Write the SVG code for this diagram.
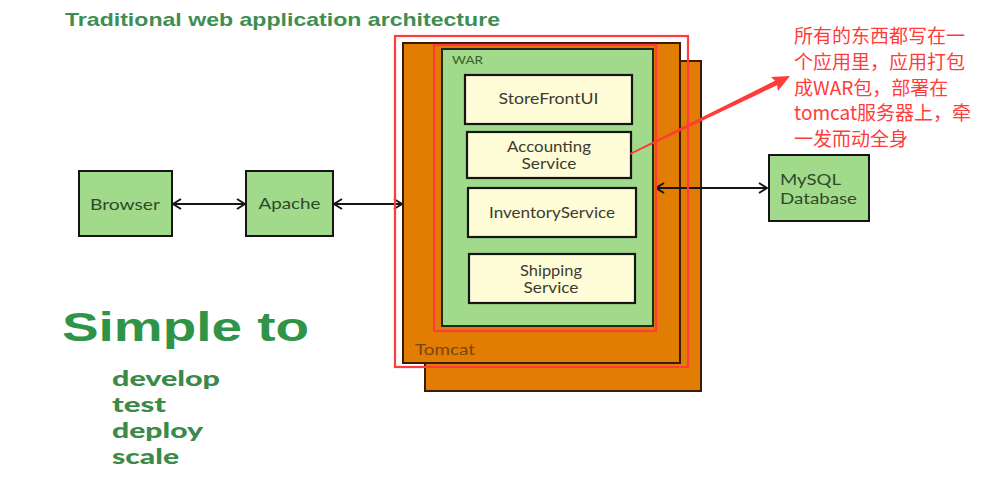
<svg xmlns="http://www.w3.org/2000/svg" width="983" height="477" viewBox="0 0 983 477">
  <defs>
    <style>
      .bg { fill: #ffffff; }
      .tomcat { fill: #e27d03; stroke: #3a1c05; stroke-width: 2; }
      .war { fill: #a0da8a; stroke: #1f2a1a; stroke-width: 2; }
      .svc { fill: #fffcd8; stroke: #151515; stroke-width: 2.2; }
      .node { fill: #a0da8a; stroke: #151515; stroke-width: 2; }
      .hl { fill: none; stroke: #ff3b3b; stroke-width: 2.2; }
      .lbl { font-family: Lato, "Open Sans", "DejaVu Sans", sans-serif; font-size: 15px; fill: #3c3c30; }
      .nlbl { font-family: Lato, "Open Sans", "DejaVu Sans", sans-serif; font-size: 16px; fill: #2e4a2c; }
      .title { font-family: "Liberation Sans", Arial, sans-serif; font-weight: bold; font-size: 18.5px; fill: #3e8e52; }
      .big { font-family: "Liberation Sans", Arial, sans-serif; font-weight: bold; font-size: 40px; fill: #2f9447; }
      .list { font-family: Lato, "Open Sans", "DejaVu Sans", sans-serif; font-weight: 900; font-size: 20px; fill: #3a8a4a; }
      .note { font-family: "Noto Sans CJK SC", "Noto Sans", sans-serif; font-size: 19px; fill: #ff3b3b; }
      .conn { stroke: #161616; stroke-width: 2; fill: none; }
    </style>
    <marker id="chev" viewBox="0 0 10 12" refX="9" refY="6" markerWidth="10" markerHeight="12" markerUnits="userSpaceOnUse" orient="auto-start-reverse">
      <path d="M1,1 L9,6 L1,11" fill="none" stroke="#161616" stroke-width="2"/>
    </marker>
  </defs>

  <rect class="bg" x="0" y="0" width="983" height="477"/>

  <text class="title" x="65" y="26" textLength="435" lengthAdjust="spacingAndGlyphs">Traditional web application architecture</text>

  <g id="tomcat-back">
    <rect class="tomcat" x="425" y="61" width="276" height="330"/>
  </g>
  <g id="tomcat">
    <rect class="tomcat" x="403" y="43" width="277" height="320"/>
    <text x="415" y="355" font-family="Lato, 'Open Sans', sans-serif" font-size="16" fill="#7a4510" textLength="60" lengthAdjust="spacingAndGlyphs">Tomcat</text>
  </g>
  <g id="war">
    <rect class="war" x="442" y="49" width="211" height="277"/>
    <text x="452" y="64" font-family="Lato, 'Open Sans', sans-serif" font-size="12" fill="#3a5e32" textLength="31" lengthAdjust="spacingAndGlyphs">WAR</text>
  </g>
  <g id="storefront">
    <rect class="svc" x="465" y="75" width="167" height="49"/>
    <text class="lbl" x="548.5" y="104" text-anchor="middle" textLength="100" lengthAdjust="spacingAndGlyphs">StoreFrontUI</text>
  </g>
  <g id="accounting">
    <rect class="svc" x="467" y="132" width="164" height="46"/>
    <text class="lbl" x="549" y="152" text-anchor="middle" textLength="84" lengthAdjust="spacingAndGlyphs">Accounting</text>
    <text class="lbl" x="549" y="169" text-anchor="middle" textLength="55" lengthAdjust="spacingAndGlyphs">Service</text>
  </g>
  <g id="inventory">
    <rect class="svc" x="468" y="188" width="168" height="49"/>
    <text class="lbl" x="552" y="218" text-anchor="middle" textLength="126" lengthAdjust="spacingAndGlyphs">InventoryService</text>
  </g>
  <g id="shipping">
    <rect class="svc" x="469" y="254" width="166" height="49"/>
    <text class="lbl" x="551" y="276" text-anchor="middle" textLength="62" lengthAdjust="spacingAndGlyphs">Shipping</text>
    <text class="lbl" x="551" y="293" text-anchor="middle" textLength="55" lengthAdjust="spacingAndGlyphs">Service</text>
  </g>

  <g id="browser">
    <rect class="node" x="79" y="171" width="93" height="65"/>
    <text class="nlbl" x="125" y="210" text-anchor="middle" textLength="70" lengthAdjust="spacingAndGlyphs">Browser</text>
  </g>
  <g id="apache">
    <rect class="node" x="246" y="171" width="87" height="65"/>
    <text class="nlbl" x="289.5" y="209" text-anchor="middle" textLength="62" lengthAdjust="spacingAndGlyphs">Apache</text>
  </g>
  <g id="mysql">
    <rect class="node" x="769" y="155" width="100" height="66"/>
    <text class="nlbl" x="780" y="185" textLength="61" lengthAdjust="spacingAndGlyphs">MySQL</text>
    <text class="nlbl" x="780" y="204" textLength="77" lengthAdjust="spacingAndGlyphs">Database</text>
  </g>

  <g id="connectors">
    <line class="conn" x1="173" y1="204" x2="245" y2="204" marker-start="url(#chev)" marker-end="url(#chev)"/>
    <line class="conn" x1="334" y1="204" x2="402" y2="204" marker-start="url(#chev)" marker-end="url(#chev)"/>
    <line class="conn" x1="656" y1="188" x2="767" y2="188" marker-start="url(#chev)" marker-end="url(#chev)"/>
  </g>

  <g id="highlights">
    <rect class="hl" x="395" y="36" width="293" height="331"/>
    <rect class="hl" x="434" y="45" width="222" height="286"/>
  </g>

  <g id="annotation-arrow">
    <polygon points="629.6,153.2 774.9,80.8 771,77 790,76 778,91 777.1,85.2 630.4,154.8" fill="#ff3b3b"/>
  </g>

  <g id="annotation">
    <text class="note" x="794" y="43">所有的东西都写在一</text>
    <text class="note" x="794" y="69">个应用里，应用打包</text>
    <text class="note" x="794" y="94.5">成WAR包，部署在</text>
    <text class="note" x="794" y="120">tomcat服务器上，牵</text>
    <text class="note" x="794" y="146">一发而动全身</text>
  </g>

  <g id="simple">
    <text class="big" x="62" y="341" textLength="247" lengthAdjust="spacingAndGlyphs">Simple to</text>
    <text class="list" x="112" y="386" textLength="108" lengthAdjust="spacingAndGlyphs">develop</text>
    <text class="list" x="112" y="412" textLength="54" lengthAdjust="spacingAndGlyphs">test</text>
    <text class="list" x="112" y="438" textLength="91" lengthAdjust="spacingAndGlyphs">deploy</text>
    <text class="list" x="112" y="464" textLength="67" lengthAdjust="spacingAndGlyphs">scale</text>
  </g>
</svg>
